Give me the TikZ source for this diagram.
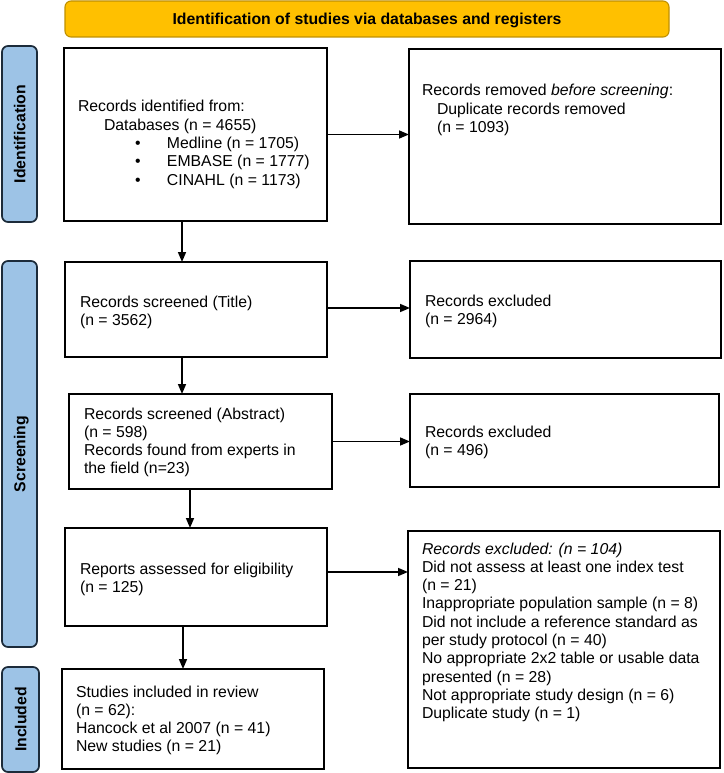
\documentclass[tikz,border=0pt]{standalone}
\usepackage{fontspec}
\setmainfont{Liberation Sans}
\usetikzlibrary{arrows.meta}
\definecolor{bannerfill}{HTML}{FFC000}
\definecolor{bannerline}{HTML}{BF9000}
\definecolor{sidefill}{HTML}{9DC3E6}
\definecolor{sideline}{HTML}{1C2B3A}
\tikzset{
  box/.style={draw=black, line width=1.4pt, fill=white, inner sep=0pt, outer sep=0pt},
  side/.style={draw=sideline, line width=1.7pt, fill=sidefill, rounded corners=6pt,
    inner sep=0pt, outer sep=0pt, rotate=90, font=\fontsize{15.8}{18.3}\selectfont\bfseries,
    text height=11.5pt, text depth=0pt},
  banner/.style={draw=bannerline, line width=1.1pt, fill=bannerfill, rounded corners=6pt,
    inner sep=0pt, outer sep=0pt, font=\fontsize{15.8}{18.3}\selectfont\bfseries,
    text height=11.5pt, text depth=0pt},
  txt/.style={anchor=north west, inner sep=0pt, outer sep=0pt, align=left,
    font=\fontsize{15.8}{18.3}\selectfont},
  arr/.style={draw=black, line width=1.5pt, -{Triangle[length=10pt,width=8pt]}}
}
\newcommand{\fl}{\rule{0pt}{13pt}}
\begin{document}
\begin{tikzpicture}[x=1pt,y=-1pt]
\useasboundingbox (0,0) rectangle (723,773);
% banner
\node[banner, minimum width=604pt, minimum height=36pt] (ban) at (367,19)
  {Identification of studies via databases and registers};
% side labels
\node[side, minimum width=176pt, minimum height=35pt] (sid) at (19.5,134) {Identification};
\node[side, minimum width=386pt, minimum height=35pt] (sscr) at (19.5,454) {Screening};
\node[side, minimum width=105pt, minimum height=37pt] (sinc) at (20.5,719.5) {Included};
% boxes
\node[box, minimum width=263pt, minimum height=173pt] (b1) at (195.5,134.5) {};
\node[box, minimum width=312pt, minimum height=175pt] (b2) at (565,136.5) {};
\node[box, minimum width=262pt, minimum height=95pt] (b3) at (196,309.5) {};
\node[box, minimum width=311pt, minimum height=97pt] (b4) at (565.5,309.5) {};
\node[box, minimum width=263pt, minimum height=95pt] (b5) at (200.5,441.5) {};
\node[box, minimum width=309pt, minimum height=93pt] (b6) at (564.5,440.5) {};
\node[box, minimum width=262pt, minimum height=98pt] (b7) at (196,577) {};
\node[box, minimum width=312pt, minimum height=237pt] (b8) at (564,649.5) {};
\node[box, minimum width=262pt, minimum height=100pt] (b9) at (193,719) {};
% texts
\node[txt] (t1) at (78,99) {\fl Records identified from:\\
  \hspace*{26pt}Databases (n = 4655)\\
  \hspace*{57pt}\makebox[32pt][l]{•}Medline (n = 1705)\\
  \hspace*{57pt}\makebox[32pt][l]{•}EMBASE (n = 1777)\\
  \hspace*{57pt}\makebox[32pt][l]{•}CINAHL (n = 1173)};
\node[txt] (t2) at (422,83) {\fl Records removed \textit{before screening}:\\
  \hspace*{15pt}Duplicate records removed\\
  \hspace*{15pt}(n = 1093)};
\node[txt] (t3) at (80,294) {\fl Records screened (Title)\\(n = 3562)};
\node[txt] (t4) at (425,293) {\fl Records excluded\\(n = 2964)};
\node[txt] (t5) at (84,406) {\fl Records screened (Abstract)\\(n = 598)\\
  Records found from experts in\\the field (n=23)};
\node[txt] (t6) at (425,424) {\fl Records excluded\\(n = 496)};
\node[txt] (t7) at (80,561) {\fl Reports assessed for eligibility\\(n = 125)};
\node[txt] (t8) at (422,541) {\fl \textit{Records excluded: (n = 104)}\\
  Did not assess at least one index test\\
  (n = 21)\\
  Inappropriate population sample (n = 8)\\
  Did not include a reference standard as\\
  per study protocol (n = 40)\\
  No appropriate 2x2 table or usable data\\
  presented (n = 28)\\
  Not appropriate study design (n = 6)\\
  Duplicate study (n = 1)};
\node[txt] (t9) at (76,684) {\fl Studies included in review\\(n = 62):\\
  Hancock et al 2007 (n = 41)\\New studies (n = 21)};
% arrows
\draw[arr] (b1.east) -- (b1.east -| b2.west);
\draw[arr] ([xshift=118pt]b1.south west) -- ([xshift=118pt]b1.south west |- b3.north);
\draw[arr] ([yshift=1.5pt]b3.east) -- ([yshift=1.5pt]b3.east -| b4.west);
\draw[arr] ([xshift=117pt]b3.south west) -- ([xshift=117pt]b3.south west |- b5.north);
\draw[arr] (b5.east) -- (b5.east -| b6.west);
\draw[arr] ([xshift=121pt]b5.south west) -- ([xshift=121pt]b5.south west |- b7.north);
\draw[arr] ([yshift=5pt]b7.east) -- ([yshift=5pt]b7.east -| b8.west);
\draw[arr] ([xshift=118pt]b7.south west) -- ([xshift=118pt]b7.south west |- b9.north);
\end{tikzpicture}
\end{document}
